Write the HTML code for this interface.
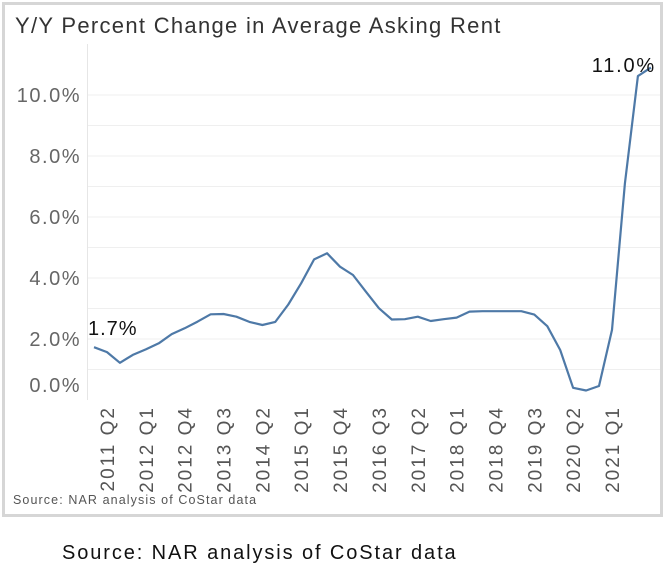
<!DOCTYPE html>
<html><head><meta charset="utf-8"><style>
body{margin:0;background:#fff;width:665px;height:570px;overflow:hidden;font-family:"Liberation Sans",sans-serif}
</style></head><body>
<svg width="665" height="570" xmlns="http://www.w3.org/2000/svg">
<rect x="3.5" y="3.5" width="658" height="512" fill="#fff" stroke="#d6d6d6" stroke-width="3"/>
<text x="15" y="33" font-size="22" letter-spacing="1.3" fill="#333">Y/Y Percent Change in Average Asking Rent</text>
<g id="grid"></g>
<line x1="87.5" y1="44" x2="87.5" y2="400" stroke="#e6e6e6"/>
<g id="yt"></g><g id="xt"></g>
<path id="ln" fill="none" stroke="#4e79a7" stroke-width="2.2" stroke-linejoin="round"/>
<g id="lab"></g>
<text x="13" y="504" font-size="12.5" letter-spacing="1.1" fill="#555">Source: NAR analysis of CoStar data</text>
<text x="62" y="559" font-size="20" letter-spacing="1.9" fill="#111">Source: NAR analysis of CoStar data</text>
</svg>
<script>
const values=[1.73,1.57,1.22,1.48,1.66,1.86,2.16,2.35,2.57,2.81,2.82,2.73,2.56,2.46,2.56,3.13,3.83,4.61,4.81,4.37,4.10,3.55,3.01,2.64,2.65,2.73,2.59,2.65,2.70,2.90,2.91,2.91,2.91,2.91,2.80,2.42,1.64,0.40,0.31,0.46,2.30,7.10,10.62,10.9];
const tickLabels=["2011 Q2","2012 Q1","2012 Q4","2013 Q3","2014 Q2","2015 Q1","2015 Q4","2016 Q3","2017 Q2","2018 Q1","2018 Q4","2019 Q3","2020 Q2","2021 Q1"];
const tickIdx=[1,4,7,10,13,16,19,22,25,28,31,34,37,40];
const yTicks=[0,2,4,6,8,10];
const gridVals=[1,2,3,4,5,6,7,8,9,10];
const NS="http://www.w3.org/2000/svg";
const x=i=>94+12.95*i, y=v=>400-30.5*v;
function mk(t,a,p,txt){const e=document.createElementNS(NS,t);for(const k in a)e.setAttribute(k,a[k]);if(txt!=null)e.textContent=txt;document.getElementById(p).appendChild(e);return e;}
gridVals.forEach(v=>{const e=mk('line',{x1:87,x2:660,y1:y(v),y2:y(v),stroke:'#efefef'},'grid');

});
yTicks.forEach(v=>{const e=mk('text',{x:81,y:v===0?y(0)-8:y(v)+7,'font-size':20,'letter-spacing':1.5,fill:'#666','text-anchor':'end'},'yt',v.toFixed(1)+'%');

});
tickLabels.forEach((t,k)=>{const xx=x(tickIdx[k])+7;const e=mk('text',{x:0,y:0,transform:`translate(${xx},406) rotate(-90)`,'font-size':19,'letter-spacing':2,fill:'#555','text-anchor':'end'},'xt',t);

});
document.getElementById('ln').setAttribute('d',values.map((v,i)=>(i?'L':'M')+x(i).toFixed(1)+','+y(v).toFixed(1)).join(''));
const a=mk('text',{x:88,y:335,'font-size':20,'letter-spacing':1,fill:'#111'},'lab',values[0].toFixed(1)+'%');


const b=mk('text',{x:656,y:72,'font-size':20,'letter-spacing':1.8,fill:'#111','text-anchor':'end'},'lab','11.0%');


</script>
</body></html>
